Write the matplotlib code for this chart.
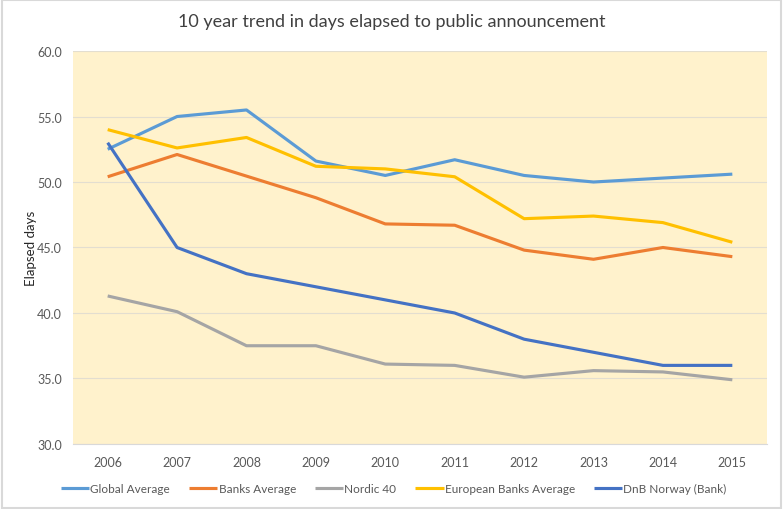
import matplotlib
matplotlib.use("Agg")
import matplotlib.pyplot as plt
from matplotlib.patches import Rectangle

plt.rcParams['font.family'] = ['Lato', 'DejaVu Sans']

years = ['2006', '2007', '2008', '2009', '2010', '2011', '2012', '2013', '2014', '2015']
global_avg = [52.5, 55.0, 55.5, 51.6, 50.5, 51.7, 50.5, 50.0, 50.3, 50.6]
banks_avg = [50.4, 52.1, 50.45, 48.8, 46.8, 46.7, 44.8, 44.1, 45.0, 44.3]
nordic40 = [41.3, 40.1, 37.5, 37.5, 36.1, 36.0, 35.1, 35.6, 35.5, 34.9]
euro_banks = [54.0, 52.6, 53.4, 51.2, 51.0, 50.4, 47.2, 47.4, 46.9, 45.4]
dnb = [53.0, 45.0, 43.0, 42.0, 41.0, 40.0, 38.0, 37.0, 36.0, 36.0]
yticks = [30, 35, 40, 45, 50, 55, 60]

series = [
    ('Global Average', global_avg, '#5B9BD5'),
    ('Banks Average', banks_avg, '#ED7D31'),
    ('Nordic 40', nordic40, '#A5A5A5'),
    ('European Banks Average', euro_banks, '#FFC000'),
    ('DnB Norway (Bank)', dnb, '#4472C4'),
]

fig = plt.figure(figsize=(7.83, 5.10), dpi=100)
fig.patches.append(Rectangle((0.002, 0.002), 0.996, 0.996, transform=fig.transFigure,
                             fill=False, edgecolor='#D9D9D9', linewidth=1.5))
ax = fig.add_axes([0.0932, 0.1275, 0.8864, 0.7705])
ax.set_facecolor('#FFF2CC')
x = list(range(len(years)))
for name, vals, col in series:
    ax.plot(x, vals, color=col, linewidth=2.25, label=name, solid_capstyle='butt')

ax.set_xlim(-0.5, len(years) - 0.5)
ax.set_ylim(30, 60)
ax.set_yticks(yticks)
ax.set_yticklabels([f'{v:.1f}' for v in yticks])
ax.set_xticks(x)
ax.set_xticklabels(years)
ax.grid(axis='y', color='#E3DED0', linewidth=0.8)
ax.set_axisbelow(True)
for s in ['top', 'right', 'left']:
    ax.spines[s].set_visible(False)
ax.spines['bottom'].set_color('#D9D9D9')
ax.tick_params(axis='both', length=0, colors='#595959', labelsize=9)
ax.tick_params(axis='x', pad=9)
ax.tick_params(axis='y', pad=8)
ax.yaxis.set_label_coords(-0.052, 0.5)
ax.set_ylabel('Elapsed days', color='#262626', fontsize=9.5)

fig.text(0.5, 0.957, '10 year trend in days elapsed to public announcement',
         ha='center', va='center', fontsize=13, color='#404040')

leg = fig.legend(loc='center', bbox_to_anchor=(0.503, 0.04), ncol=5, frameon=False,
                 fontsize=8.5, handlelength=2.4, handletextpad=0.1, columnspacing=1.6,
                 borderpad=0, borderaxespad=0)
for t in leg.get_texts():
    t.set_color('#595959')

fig.savefig('out.png', dpi=100)
